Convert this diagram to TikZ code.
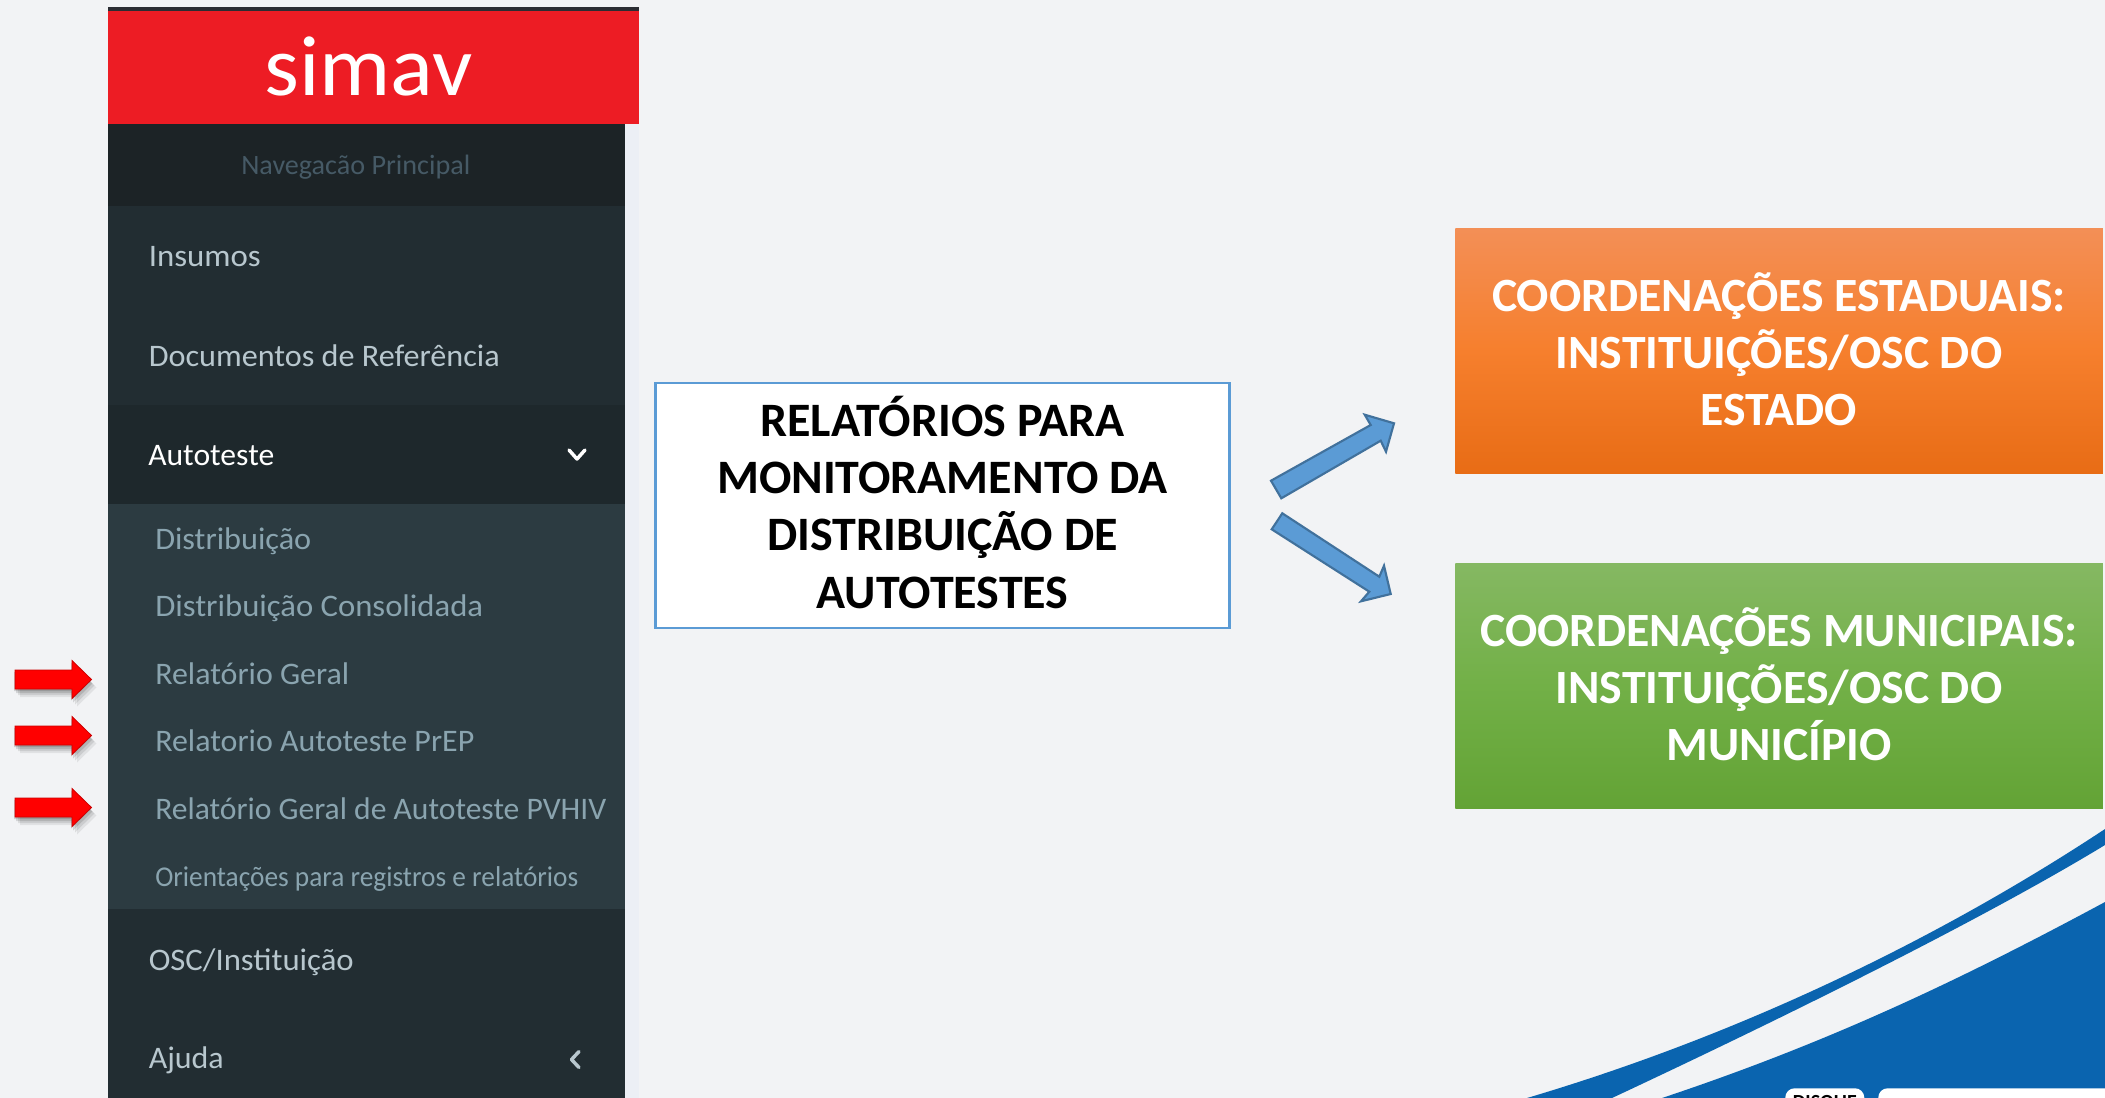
\documentclass[tikz,border=0pt]{standalone}
\usepackage{graphicx}
\usepackage{fontspec}
\setmainfont{Carlito}
\newfontfamily\menufont{Carlito}
\usetikzlibrary{calc}
\definecolor{pagebg}{HTML}{F2F3F5}
\definecolor{stripbg}{HTML}{ECEFF5}
\definecolor{topbar}{HTML}{2B2D33}
\definecolor{logored}{HTML}{ED1C24}
\definecolor{navhead}{HTML}{1C2326}
\definecolor{mainbar}{HTML}{222D32}
\definecolor{activebar}{HTML}{1E282C}
\definecolor{subbar}{HTML}{2C3B41}
\definecolor{navtxt}{HTML}{465A66}
\definecolor{maintxt}{HTML}{B8C7CE}
\definecolor{subtxt}{HTML}{8AA4AF}
\definecolor{boxline}{HTML}{5B9BD5}
\definecolor{arrowblue}{HTML}{5B9BD5}
\definecolor{arrowedge}{HTML}{41719C}
\definecolor{curveblue}{HTML}{0A64AF}
\definecolor{orangetop}{HTML}{F38F56}
\definecolor{orangemid}{HTML}{F67F2D}
\definecolor{orangebot}{HTML}{E86C15}
\definecolor{greentop}{HTML}{85B862}
\definecolor{greenmid}{HTML}{72B047}
\definecolor{greenbot}{HTML}{63A335}
\newsavebox{\fitbox}
\newcommand{\fitw}[2]{\sbox{\fitbox}{#2}\pgfmathsetmacro{\fitr}{0.75*#1/\the\wd\fitbox}\scalebox{\fitr}[1]{\usebox{\fitbox}}}
\tikzset{
  menutext/.style={anchor=base west,inner sep=0pt,font={\menufont\fontsize{23.5pt}{28pt}\selectfont}},
  maintext/.style={menutext,text=maintxt},
  subtext/.style={menutext,text=subtxt},
  colourbox/.style={minimum width=647.5*0.75pt,minimum height=245*0.75pt,inner sep=0pt,anchor=north west,align=center,text=white,font={\bfseries\fontsize{35.8pt}{43pt}\selectfont}},
  chev/.style={line width=2.6pt,line cap=round,line join=round},
  redarrow/.style={fill=red,draw=red!80!black,line width=0.6pt,line join=miter},
  bluearrow/.style={fill=arrowblue,draw=arrowedge,line width=1.6pt,line join=miter}
}
\newcommand{\redarrowat}[1]{%
  \foreach \s/\o in {8/0.07,6/0.09,4/0.12,2/0.14}{%
    \fill[black,opacity=\o] (15+\s-3,#1-9.5+\s) -- (72+\s-3,#1-9.5+\s) -- (72+\s-3,#1-19+\s) -- (91.5+\s-3,#1+\s) -- (72+\s-3,#1+19+\s) -- (72+\s-3,#1+9.5+\s) -- (15+\s-3,#1+9.5+\s) -- cycle;}
  \path[redarrow] (15,#1-9.5) -- (72,#1-9.5) -- (72,#1-19) -- (91.5,#1) -- (72,#1+19) -- (72,#1+9.5) -- (15,#1+9.5) -- cycle;
}
\begin{document}
\begin{tikzpicture}[x=0.75pt,y=-0.75pt]
\useasboundingbox (0,0) rectangle (2105,1098);
\clip (0,0) rectangle (2105,1098);
\fill[pagebg] (0,0) rectangle (2105,1098);

% sidebar
\fill[stripbg] (625,124) rectangle (639,1098);
\fill[topbar] (108,7) rectangle (639,11);
\fill[logored] (108,11) rectangle (639,124);
\fill[navhead] (108,124) rectangle (625,206);
\fill[mainbar] (108,206) rectangle (625,405);
\fill[activebar] (108,405) rectangle (625,504);
\fill[subbar] (108,504) rectangle (625,909);
\fill[mainbar] (108,909) rectangle (625,1098);

\node[anchor=base west,inner sep=0pt,text=white,font={\fontsize{64pt}{76pt}\selectfont}] (logo) at (264,95.5) {\fitw{208}{simav}};
\node[menutext,text=navtxt] (nav) at (241,174.5) {\fontsize{21pt}{25pt}\selectfont\fitw{229}{Navegacão Principal}};
\node[maintext] (m1) at (148.5,267) {\fitw{112}{Insumos}};
\node[maintext] (m2) at (148.5,366) {\fitw{351}{Documentos de Referência}};
\node[menutext,text=white] (m3) at (148,465) {\fitw{126}{Autoteste}};
\node[subtext] (s1) at (155,549) {\fitw{156}{Distribuição}};
\node[subtext] (s2) at (155,616.4) {\fitw{328}{Distribuição Consolidada}};
\node[subtext] (s3) at (155,684) {\fitw{194}{Relatório Geral}};
\node[subtext] (s4) at (155,751.3) {\fitw{319}{Relatorio Autoteste PrEP}};
\node[subtext] (s5) at (155,819) {\fitw{451}{Relatório Geral de Autoteste PVHIV}};
\node[subtext,font={\menufont\fontsize{21.5pt}{25pt}\selectfont}] (s6) at (155,886.6) {\fitw{423}{Orientações para registros e relatórios}};
\node[maintext] (m4) at (148.5,970.5) {\fitw{205}{OSC/Instituição}};
\node[maintext] (m5) at (148.5,1068.3) {\fitw{75}{Ajuda}};
\draw[chev,white] (569,450) -- (577,459) -- (585,450);
\draw[chev,maintxt] (579,1051.5) -- (571.5,1059.5) -- (579,1067.5);

% red arrows
\redarrowat{679.5}
\redarrowat{735.5}
\redarrowat{807.5}

% central box
\node[draw=boxline,line width=2pt,fill=white,minimum width=574*0.75pt,minimum height=245*0.75pt,inner sep=0pt,align=center,font={\bfseries\fontsize{36pt}{43pt}\selectfont}] (report) at (942.5,505.5)
  {RELATÓRIOS PARA\\MONITORAMENTO DA\\DISTRIBUIÇÃO DE\\AUTOTESTES\rule[-5pt]{0pt}{1pt}};

% coloured boxes
\node[colourbox,top color=orangetop,bottom color=orangebot,middle color=orangemid] (state) at (1455,228.5)
  {COORDENAÇÕES ESTADUAIS:\\INSTITUIÇÕES/OSC DO\\ESTADO\rule[-3.5pt]{0pt}{1pt}};
\node[colourbox,top color=greentop,bottom color=greenbot,middle color=greenmid] (city) at (1455,563.5)
  {COORDENAÇÕES MUNICIPAIS:\\INSTITUIÇÕES/OSC DO\\MUNICÍPIO\rule[-3.5pt]{0pt}{1pt}};

% block arrows
\path[bluearrow] (1271,480.7) -- (1370.7,425) -- (1364.7,414.7) -- (1394,423.3) -- (1386,451.7) -- (1380.7,440.7) -- (1281.3,498.3) -- cycle;
\path[bluearrow] (1282.3,513.3) -- (1379.3,576.7) -- (1384,565.7) -- (1390.7,594) -- (1361,601.3) -- (1369.3,591.7) -- (1271.7,529.3) -- cycle;

% bottom curves
\fill[curveblue] (2105,829) .. controls (1990,905) and (1790,1020) .. (1527,1098) -- (1612,1098) .. controls (1800,1010) and (1990,915) .. (2105,845) -- cycle;
\fill[curveblue] (2105,902) .. controls (1960,980) and (1830,1042) .. (1662,1098) -- (2105,1098) -- cycle;
\node[fill=white,rounded corners=7pt,minimum width=79*0.75pt,minimum height=30*0.75pt,inner sep=0pt,anchor=north west,font={\bfseries\fontsize{15pt}{18pt}\selectfont},text=black] (dial) at (1785,1088) {DISQUE};
\node[fill=white,rounded corners=7pt,minimum width=260*0.75pt,minimum height=30*0.75pt,inner sep=0pt,anchor=north west] (num) at (1878,1088) {};
\end{tikzpicture}
\end{document}
